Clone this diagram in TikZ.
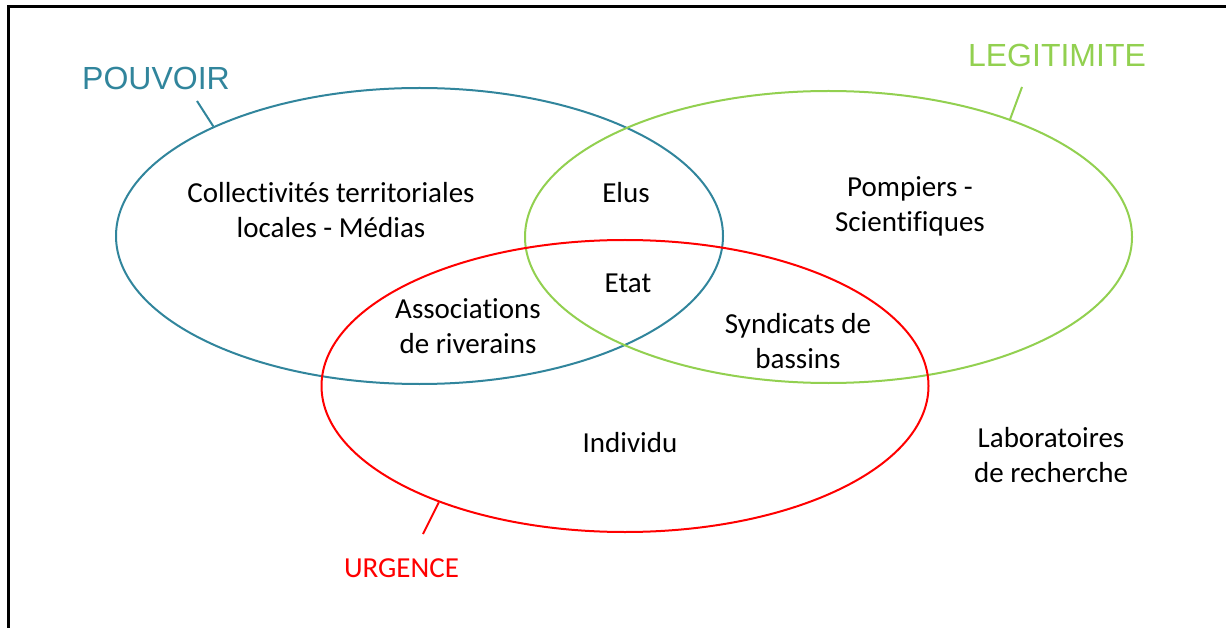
\documentclass[tikz,border=0pt]{standalone}
\usepackage{fontspec}
\setmainfont[Ligatures=NoCommon]{Carlito}
\newfontfamily\arialfont{Liberation Sans}
\usetikzlibrary{shapes.geometric}
\definecolor{pblue}{HTML}{31859C}
\definecolor{lgreen}{HTML}{92D050}
\definecolor{ured}{HTML}{FF0000}
\tikzset{
  venn/.style={ellipse, draw, line width=2pt, inner sep=0pt, minimum width=607pt},
  lbl/.style={inner sep=0pt, align=center, font=\fontsize{29}{35}\selectfont},
  title/.style={inner sep=0pt, font=\arialfont\fontsize{32}{40}\selectfont},
  tick/.style={line width=2pt}
}
\begin{document}
\begin{tikzpicture}[x=1pt,y=-1pt]
\useasboundingbox (0,0) rectangle (1226,628);
% frame
\draw[line width=3pt] (8,628) -- (8,7) -- (1226,7);
% ellipses
\node[venn, draw=pblue, minimum height=296pt] (pouvoir) at (419.5,236) {};
\node[venn, draw=lgreen, minimum height=292pt] (legit) at (828.5,237) {};
\node[venn, draw=ured, minimum height=292pt] (urg) at (625,386) {};
% titles
\node[title, text=pblue] (tp) at (156,82) {POUVOIR\strut};
\node[title, text=lgreen] (tl) at (1057,59) {LEGITIMITE\strut};
\node[lbl, text=ured] (tu) at (401.5,570) {URGENCE\strut};
% ticks
\coordinate (kp) at (197,101);
\coordinate (kl) at (1022,87);
\coordinate (ku) at (423,534);
\draw[tick, pblue] (pouvoir.152.5) -- (kp);
\draw[tick, lgreen] (legit.33.5) -- (kl);
\draw[tick, ured] (urg.212) -- (ku);
% labels
\node[lbl] (coll) at (331,213.5) {Collectivités territoriales\strut\\locales - Médias\strut};
\node[lbl] (elus) at (626,196) {Elus\strut};
\node[lbl] (etat) at (628,286) {Etat\strut};
\node[lbl] (asso) at (468,329) {Associations\strut\\de riverains\strut};
\node[lbl] (pomp) at (910,207) {Pompiers -\strut\\Scientifiques\strut};
\node[lbl] (synd) at (798,343.5) {Syndicats de\strut\\bassins\strut};
\node[lbl] (indiv) at (630,445) {Individu\strut};
\node[lbl] (labo) at (1051,458) {Laboratoires\strut\\de recherche\strut};
\end{tikzpicture}
\end{document}
